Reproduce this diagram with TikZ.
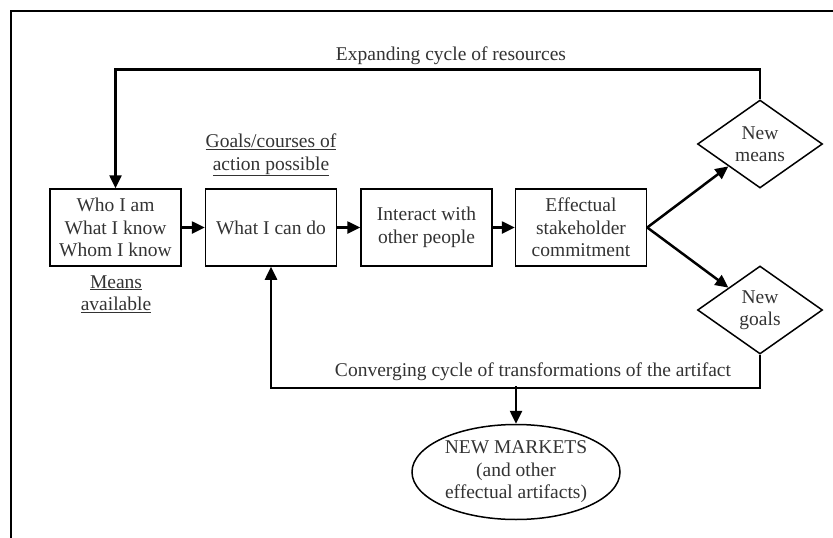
\documentclass[tikz,border=0pt]{standalone}
\usepackage{fontspec}
\setmainfont{Liberation Serif}
\usetikzlibrary{arrows.meta,shapes.geometric}
\definecolor{inkgray}{HTML}{333333}
\tikzset{
	stage/.style={draw=black, line width=1.5pt, minimum width=131pt, minimum height=77pt, align=center, text=inkgray},
	outcome/.style={draw=black, diamond, line width=1.5pt, aspect=1.42, inner sep=0pt, minimum width=125pt, minimum height=88pt, align=center, text=inkgray},
	flow/.style={draw=black, line width=2.5pt, -{Triangle[length=13pt, width=12pt]}},
	caption/.style={text=inkgray, align=center},
}
\begin{document}
\begin{tikzpicture}[x=1pt, y=-1pt, font=\fontsize{19.5}{22.5}\selectfont]
	\useasboundingbox (0,0) rectangle (833,538);
	% frame
	\draw[draw=black, line width=2.5pt] (833,11) -- (11,11) -- (11,538);
	% process boxes
	\node[stage] (who) at (115.5,227.5) {Who I am\\What I know\\Whom I know};
	\node[stage] (cando) at (271,227.5) {What I can do};
	\node[stage] (interact) at (426.5,227.5) {Interact with\\other people};
	\node[stage] (commit) at (581,227.5) {Effectual\\stakeholder\\commitment};
	\node[outcome] (means) at (760,144) {New\\means};
	\node[outcome] (goals) at (760,310) {New\\goals};
	\node[draw=black, ellipse, line width=1.5pt, inner sep=0pt, minimum width=208pt, minimum height=95pt, align=center, text=inkgray] (markets) at (516,472) {NEW MARKETS\\(and other\\effectual artifacts)};
	% labels
	\node[caption] (meanslbl) at (116,294) {\underline{Means}\\\underline{available}};
	\node[caption] (goalslbl) at (271,155) {\underline{Goals/courses of}\\\underline{action possible}};
	\node[caption] (expand) at (451,56) {Expanding cycle of resources};
	\node[caption] (converge) at (533,372) {Converging cycle of transformations of the artifact};
	% connectors
	\draw[flow] (who) -- (cando);
	\draw[flow] (cando) -- (interact);
	\draw[flow] (interact) -- (commit);
	\draw[flow] (commit.east) -- (means.south west);
	\draw[flow] (commit.east) -- (goals.north west);
	\draw[flow] (means.north) -- ++(0,-30) -| (who.north);
	\draw[flow] (goals.south) -- ++(0,33) -| (cando.south);
	\coordinate (split) at (markets.north |- 0,386);
	\draw[flow] (split) -- (markets.north);
\end{tikzpicture}
\end{document}
